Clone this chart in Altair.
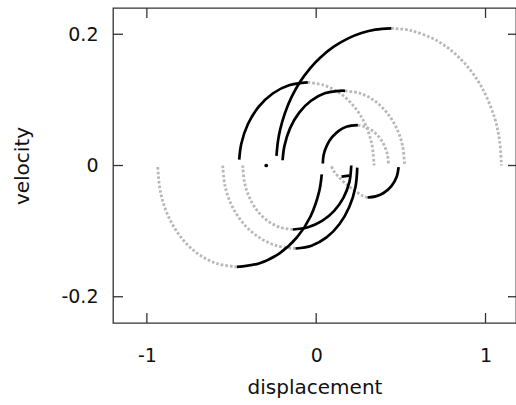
import altair as alt
import pandas as pd

# ---- data (displacement, velocity) ----
# upper arcs: solid part (rising) and dotted continuation (falling)
A_solid_x = [-0.4546, -0.4426, -0.4030, -0.3391, -0.2567, -0.1606, -0.0495]
A_solid_v = [0.0089, 0.0328, 0.0633, 0.0896, 0.1097, 0.1222, 0.1266]
A_dot_x = [-0.0495, 0.0463, 0.1426, 0.2248, 0.2887, 0.3283, 0.3419]
A_dot_v = [0.1266, 0.1222, 0.1097, 0.0896, 0.0633, 0.0328, 0.0]

B_solid_x = [-0.1984, -0.1878, -0.1541, -0.1003, -0.0306, 0.0504, 0.1379, 0.1704]
B_solid_v = [0.0080, 0.0295, 0.0569, 0.0806, 0.0986, 0.1100, 0.1138, 0.1138]
B_dot_x = [0.1704, 0.2591, 0.3448, 0.4181, 0.4749, 0.5103, 0.5220]
B_dot_v = [0.1138, 0.1100, 0.0986, 0.0804, 0.0569, 0.0295, 0.0]

C_solid_x = [0.0392, 0.0439, 0.0634, 0.0948, 0.1350, 0.1823, 0.2461]
C_solid_v = [0.0031, 0.0159, 0.0307, 0.0435, 0.0533, 0.0594, 0.0615]
C_dot_x = [0.2461, 0.2827, 0.3300, 0.3702, 0.4016, 0.4211, 0.4276]
C_dot_v = [0.0615, 0.0594, 0.0533, 0.0435, 0.0307, 0.0159, 0.0]

D_solid_x = [-0.2345, -0.2262, -0.2132, -0.1866, -0.1452, -0.0920, -0.0371, 0.0250, 0.1036, 0.1888, 0.2674, 0.3489, 0.4435]
D_solid_v = [0.0147, 0.0363, 0.0542, 0.0783, 0.1045, 0.1287, 0.1478, 0.1646, 0.1810, 0.1937, 0.2018, 0.2070, 0.2090]
D_dot_x = [0.4435, 0.5565, 0.7184, 0.8615, 0.9761, 1.0548, 1.0837, 1.0938]
D_dot_v = [0.2090, 0.2058, 0.1894, 0.1600, 0.1199, 0.0716, 0.0363, 0.0]

# lower arcs: solid part (falling) and dotted continuation (returning)
G_solid_x = [0.0328, 0.0173, -0.0329, -0.1127, -0.2168, -0.3380, -0.4680]
G_solid_v = [-0.0134, -0.0399, -0.0773, -0.1093, -0.1338, -0.1492, -0.1546]
G_dot_x = [-0.4680, -0.5892, -0.7021, -0.7990, -0.8735, -0.9202, -0.9361]
G_dot_v = [-0.1546, -0.1492, -0.1338, -0.1093, -0.0773, -0.0399, 0.0]

H_solid_x = [0.2071, 0.1960, 0.1613, 0.1060, 0.0345, -0.0489, -0.1381]
H_solid_v = [0.0, -0.0253, -0.0488, -0.0691, -0.0845, -0.0942, -0.0975]
H_dot_x = [-0.1381, -0.2144, -0.2859, -0.3474, -0.3941, -0.4237, -0.4337]
H_dot_v = [-0.0975, -0.0942, -0.0845, -0.0691, -0.0488, -0.0253, 0.0]

I_solid_x = [0.2425, 0.2319, 0.1953, 0.1367, 0.0611, -0.0276, -0.1222]
I_solid_v = [-0.0033, -0.0327, -0.0632, -0.0895, -0.1096, -0.1222, -0.1265]
I_dot_x = [-0.1222, -0.2333, -0.3371, -0.4260, -0.4946, -0.5372, -0.5519]
I_dot_v = [-0.1265, -0.1222, -0.1096, -0.0895, -0.0632, -0.0327, 0.0]

E_solid_x = [0.4867, 0.4759, 0.4442, 0.3955, 0.3508, 0.3034]
E_solid_v = [-0.0026, -0.0167, -0.0314, -0.0423, -0.0471, -0.0488]
E_dot_x = [0.3034, 0.2798, 0.2443, 0.2029, 0.1645, 0.1290, 0.1025, 0.0877]
E_dot_v = [-0.0488, -0.0468, -0.0414, -0.0338, -0.0254, -0.0163, -0.0079, 0.0005]

J_solid_x = [0.1497, 0.1952]
J_solid_v = [-0.0170, -0.0155]

point_x = [-0.295]
point_v = [0.0]

x_ticks = [-1, 0, 1]
y_ticks = [-0.2, 0, 0.2]

solid = {"A": (A_solid_x, A_solid_v), "B": (B_solid_x, B_solid_v), "C": (C_solid_x, C_solid_v),
         "D": (D_solid_x, D_solid_v), "G": (G_solid_x, G_solid_v), "H": (H_solid_x, H_solid_v),
         "I": (I_solid_x, I_solid_v), "E": (E_solid_x, E_solid_v), "J": (J_solid_x, J_solid_v)}
dotted = {"A": (A_dot_x, A_dot_v), "B": (B_dot_x, B_dot_v), "C": (C_dot_x, C_dot_v),
          "D": (D_dot_x, D_dot_v), "G": (G_dot_x, G_dot_v), "H": (H_dot_x, H_dot_v),
          "I": (I_dot_x, I_dot_v), "E": (E_dot_x, E_dot_v)}


def to_df(d):
    rows = []
    for name, (xs, vs) in d.items():
        for i, (x, v) in enumerate(zip(xs, vs)):
            rows.append({"arc": name, "i": i, "x": x, "v": v})
    return pd.DataFrame(rows)


df_solid = to_df(solid)
df_dot = to_df(dotted)
df_pt = pd.DataFrame({"x": point_x, "v": point_v})
df_xt = pd.DataFrame({"t": x_ticks})
df_yt = pd.DataFrame({"t": y_ticks})

W, H = 403, 315
FONT = "DejaVu Sans"
FRAME = "#333333"

xscale = alt.Scale(domain=[-1.2, 1.18], nice=False, zero=False)
yscale = alt.Scale(domain=[-0.24, 0.24], nice=False, zero=False)

xaxis = alt.Axis(values=x_ticks, ticks=False, domain=False, grid=False,
                 labelExpr="toString(datum.value)", labelPadding=23,
                 labelFontSize=19, labelFont=FONT, labelColor="#111",
                 title="displacement", titleFontSize=20, titleFont=FONT,
                 titleFontWeight="normal", titleColor="#111", titlePadding=12)
yaxis = alt.Axis(values=y_ticks, ticks=False, domain=False, grid=False,
                 labelExpr="toString(datum.value)", labelPadding=15,
                 labelFontSize=19, labelFont=FONT, labelColor="#111",
                 title="velocity", titleFontSize=20, titleFont=FONT,
                 titleFontWeight="normal", titleColor="#111", titlePadding=28)

dots = alt.Chart(df_dot).mark_line(
    color="#b8b8b8", strokeWidth=2.8, strokeDash=[2.6, 2.0], interpolate="catmull-rom"
).encode(
    x=alt.X("x:Q", scale=xscale, axis=xaxis),
    y=alt.Y("v:Q", scale=yscale, axis=yaxis),
    detail="arc:N",
    order="i:Q",
)

lines = alt.Chart(df_solid).mark_line(
    color="black", strokeWidth=2.7, interpolate="catmull-rom"
).encode(
    x=alt.X("x:Q", scale=xscale),
    y=alt.Y("v:Q", scale=yscale),
    detail="arc:N",
    order="i:Q",
)

pt = alt.Chart(df_pt).mark_circle(color="black", size=14, opacity=1).encode(
    x=alt.X("x:Q", scale=xscale), y=alt.Y("v:Q", scale=yscale)
)

tick_style = dict(color=FRAME, strokeWidth=1.3)
bottom_ticks = alt.Chart(df_xt).mark_rule(**tick_style).encode(
    x=alt.X("t:Q", scale=xscale), y=alt.value(H), y2=alt.value(H - 10))
top_ticks = alt.Chart(df_xt).mark_rule(**tick_style).encode(
    x=alt.X("t:Q", scale=xscale), y=alt.value(0), y2=alt.value(10))
left_ticks = alt.Chart(df_yt).mark_rule(**tick_style).encode(
    y=alt.Y("t:Q", scale=yscale), x=alt.value(0), x2=alt.value(10))
right_ticks = alt.Chart(df_yt).mark_rule(**tick_style).encode(
    y=alt.Y("t:Q", scale=yscale), x=alt.value(W - 8), x2=alt.value(W))

chart = alt.layer(
    dots, lines, pt, bottom_ticks, top_ticks, left_ticks, right_ticks
).properties(
    width=W, height=H,
    background="white",
    autosize=alt.AutoSizeParams(type="none"),
    padding={"left": 113, "top": 8, "right": 0, "bottom": 82},
).configure_view(
    stroke=FRAME, strokeWidth=1.3
)

chart.save("out.html", embed_options={"renderer": "svg", "actions": False})
